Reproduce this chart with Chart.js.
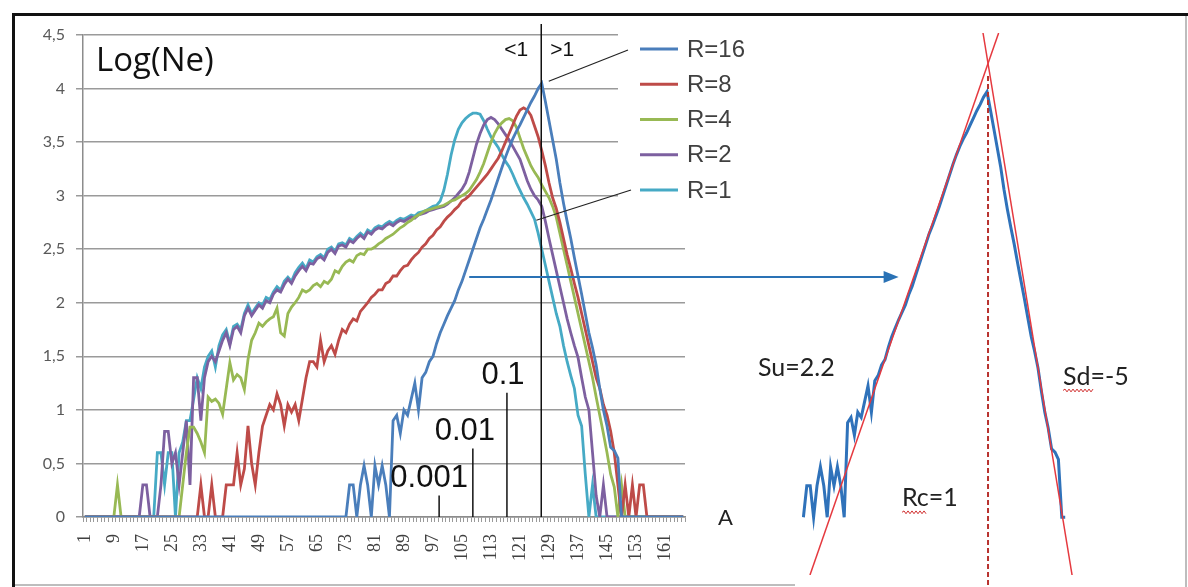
<!DOCTYPE html>
<html><head><meta charset="utf-8">
<script src="https://cdn.jsdelivr.net/npm/chart.js@4.4.1/dist/chart.umd.min.js"></script>
<style>
html,body{margin:0;padding:0;background:#fff;}
#wrap{position:relative;width:1188px;height:587px;overflow:hidden;background:#fff;}
canvas{position:absolute;left:0;top:0;}
</style></head><body>
<div id="wrap"><canvas id="main" width="1188" height="587"></canvas><canvas id="inset" width="1188" height="587"></canvas></div>
<script>
// ---------- DATA ----------
const categories = Array.from({length:166}, (_, i) => String(i + 1));
const tickLabels = ['1','9','17','25','33','41','49','57','65','73','81','89','97','105','113','121','129','137','145','153','161'];
const seriesNames = ['R=16','R=8','R=4','R=2','R=1'];
const seriesColors = ['#4A7EBB','#BE4B48','#98B954','#7D60A0','#46AAC5'];

const r16 = [
0,0,0,0,0,0,0,0,0,0, 0,0,0,0,0,0,0,0,0,0, 0,0,0,0,0,0,0,0,0,0, 0,0,0,0,0,0,0,0,0,0,
0,0,0,0,0,0,0,0,0,0, 0,0,0,0,0,0,0,0,0,0, 0,0,0,0,0,0,0,0,0,0,
0,0,0,0.3,0.3,0,0.3,0.48,0.3,0,
0.48,0.3,0.48,0.3,0,0.9,0.95,0.78,1.0,0.95,
1.1,1.25,1.0,1.3,1.35,1.45,1.5,1.62,1.72,1.8,
1.88,1.95,2.02,2.12,2.2,2.3,2.4,2.5,2.6,2.7,
2.78,2.87,2.96,3.06,3.16,3.26,3.36,3.45,3.53,3.6,
3.66,3.73,3.8,3.87,3.93,4.0,4.05,3.88,3.7,3.52,
3.34,3.12,2.93,2.76,2.6,2.42,2.25,2.08,1.9,1.72,
1.58,1.42,1.2,1.0,0.85,0.65,0.62,0.55,0,0,
0,0,0,0,0,0,0,0,0,0, 0,0,0,0,0,0];

const r8 = [
0,0,0,0,0,0,0,0,0,0, 0,0,0,0,0,0,0,0,0,0, 0,0,0,0,0,0,0,0,0,0,
0,0,0.3,0,0,0.3,0,0,0,0.3,
0.3,0.3,0.6,0.3,0.45,0.85,0.5,0.3,0.6,0.85,
0.95,1.05,1.0,1.15,1.05,0.85,1.05,0.98,1.05,0.9,
1.1,1.3,1.45,1.45,1.4,1.65,1.45,1.55,1.6,1.52,
1.65,1.75,1.72,1.8,1.85,1.83,1.92,1.96,2.0,2.05,
2.08,2.12,2.12,2.18,2.2,2.25,2.25,2.3,2.34,2.35,
2.4,2.44,2.47,2.52,2.55,2.6,2.63,2.68,2.71,2.76,
2.8,2.83,2.87,2.9,2.95,2.97,3.0,3.04,3.08,3.12,
3.16,3.2,3.25,3.3,3.35,3.42,3.5,3.58,3.66,3.74,
3.8,3.82,3.8,3.75,3.65,3.55,3.42,3.28,3.12,2.98,
2.88,2.75,2.6,2.45,2.32,2.18,2.05,1.9,1.75,1.6,
1.45,1.3,1.2,1.05,0.95,0.8,0.6,0.3,0,0.3,
0,0.3,0,0.3,0.3,0,0,0,0,0, 0,0,0,0,0,0];

const r4 = [
0,0,0,0,0,0,0,0,0,0.3, 0,0,0,0,0,0,0,0,0,0,
0,0,0,0,0,0,0,0.3,0.6,0.84,
0.84,0.78,0.7,0.6,1.12,1.08,1.1,1.06,0.96,1.2,
1.44,1.28,1.33,1.3,1.19,1.47,1.65,1.72,1.81,1.78,
1.82,1.85,1.87,1.95,1.72,1.69,1.9,1.96,2.0,2.05,
2.12,2.1,2.12,2.16,2.18,2.15,2.2,2.18,2.22,2.3,
2.28,2.34,2.38,2.4,2.38,2.44,2.46,2.45,2.5,2.5,
2.52,2.55,2.57,2.6,2.62,2.64,2.67,2.7,2.72,2.75,
2.77,2.8,2.82,2.84,2.86,2.87,2.88,2.89,2.9,2.91,
2.93,2.95,2.96,2.98,3.0,3.02,3.05,3.1,3.15,3.22,
3.3,3.4,3.5,3.58,3.64,3.68,3.71,3.72,3.7,3.64,
3.54,3.44,3.36,3.28,3.22,3.17,3.1,3.04,2.98,2.9,
2.8,2.65,2.5,2.35,2.2,2.05,1.9,1.75,1.6,1.45,
1.3,1.12,0.95,0.78,0.6,0.4,0.28,0,0.3,0,
0,0,0,0,0,0,0,0,0,0, 0,0,0,0,0,0];

const r2 = [
0,0,0,0,0,0,0,0,0,0, 0,0,0,0,0,0,0.3,0.3,0,0,
0,0.3,0.8,0.8,0.5,0.6,0.3,0.6,0.9,0.3,
1.3,1.3,0.9,1.3,1.45,1.5,1.45,1.55,1.65,1.72,
1.6,1.75,1.78,1.72,1.88,1.95,1.88,1.93,1.98,1.95,
2.02,2.0,2.08,2.12,2.1,2.17,2.22,2.18,2.25,2.3,
2.34,2.3,2.37,2.36,2.41,2.43,2.4,2.47,2.5,2.46,
2.53,2.54,2.52,2.58,2.56,2.6,2.63,2.6,2.66,2.64,
2.68,2.7,2.69,2.72,2.74,2.72,2.75,2.77,2.76,2.78,
2.8,2.79,2.82,2.83,2.84,2.86,2.87,2.88,2.89,2.9,
2.92,2.95,2.98,3.02,3.06,3.12,3.22,3.35,3.48,3.58,
3.66,3.71,3.73,3.71,3.67,3.62,3.57,3.52,3.46,3.4,
3.34,3.24,3.14,3.06,3.0,2.96,2.9,2.76,2.6,2.45,
2.3,2.15,2.0,1.85,1.72,1.6,1.49,1.3,1.12,1.0,
0.6,0.2,0,0.3,0,0,0,0,0,0,
0,0,0,0,0,0,0,0,0,0, 0,0,0,0,0,0];

const r1 = [
0,0,0,0,0,0,0,0,0,0, 0,0,0,0,0,0,0,0,0,0,
0.6,0.6,0.3,0.6,0.6,0,0.6,0.7,0.9,0.9,
1.1,1.3,1.2,1.4,1.5,1.55,1.4,1.6,1.7,1.75,
1.62,1.78,1.8,1.75,1.9,1.98,1.9,1.95,2.0,1.98,
2.05,2.03,2.1,2.15,2.12,2.2,2.24,2.2,2.28,2.33,
2.37,2.32,2.4,2.38,2.43,2.45,2.42,2.5,2.52,2.48,
2.55,2.56,2.54,2.6,2.58,2.62,2.65,2.62,2.68,2.66,
2.7,2.72,2.71,2.74,2.76,2.74,2.77,2.79,2.78,2.8,
2.82,2.81,2.84,2.85,2.86,2.88,2.9,2.91,2.95,3.05,
3.2,3.38,3.52,3.62,3.68,3.72,3.75,3.77,3.77,3.76,
3.7,3.62,3.55,3.5,3.45,3.38,3.32,3.27,3.2,3.12,
3.05,2.98,2.92,2.85,2.78,2.65,2.5,2.35,2.2,2.05,
1.9,1.78,1.6,1.45,1.32,1.2,0.95,0.85,0.4,0,
0.3,0,0,0,0,0,0,0,0,0,
0,0,0,0,0,0,0,0,0,0, 0,0,0,0,0,0];

const seriesValues = [r16, r8, r4, r2, r1];

// inset: zoom of the R=16 curve with fitted straight lines
const insetFrom = 73, insetTo = 150;      // categories of R=16 shown
const fitPeak = {cat: 127.3, value: 4.32}; // crossing of the two fitted lines
const slopeUp = 0.093, slopeDown = -0.197; // per category
const markers = [
  {cat: 98.7, top: 0.2,  label: '0.001', dx: -10},
  {cat: 108,  top: 0.64, label: '0.01',  dx: -8},
  {cat: 117.4,top: 1.16, label: '0.1',   dx: -4}
];
const peakCat = 127;
const arrow = {fromCat: 107, value: 2.24, toInsetCat: 101};

// ---------- MAIN CHART ----------
function xPix(chart, c){ return chart.scales.x.getPixelForValue(c - 1); }

const mainDecor = {
  id: 'mainDecor',
  beforeDatasetsDraw(chart){
    const ctx = chart.ctx, a = chart.chartArea, y = chart.scales.y;
    ctx.save();
    ctx.fillStyle = '#fff';
    ctx.fillRect(a.right - 67, a.top - 12, 140, y.getPixelForValue(2.75) - a.top + 12);
    ctx.restore();
  },
  afterDraw(chart){
    const ctx = chart.ctx, a = chart.chartArea, ys = chart.scales.y;
    ctx.save();
    const px = xPix(chart, peakCat) - 0.5;
    ctx.strokeStyle = '#111'; ctx.lineWidth = 1.5;
    ctx.beginPath(); ctx.moveTo(px, a.top - 11); ctx.lineTo(px, a.bottom); ctx.stroke();
    ctx.fillStyle = '#111';
    ctx.font = '21px "Liberation Sans", Arial, sans-serif';
    ctx.textBaseline = 'middle';
    ctx.textAlign = 'right'; ctx.fillText('<1', px - 13, a.top + 15);
    ctx.textAlign = 'left';  ctx.fillText('>1', px + 9, a.top + 15);
    ctx.font = '33px "Open Sans", sans-serif';
    ctx.fillText('Log(Ne)', a.left + 13, a.top + 27);
    ctx.lineWidth = 1.5;
    ctx.font = '31px "Liberation Sans", Arial, sans-serif';
    ctx.textAlign = 'center';
    markers.forEach(m => {
      const mx = xPix(chart, m.cat), my = ys.getPixelForValue(m.top);
      ctx.beginPath(); ctx.moveTo(mx, my); ctx.lineTo(mx, a.bottom); ctx.stroke();
      ctx.fillText(m.label, mx + m.dx, my - 17);
    });
    ctx.font = '24px "Liberation Sans", Arial, sans-serif';
    ctx.textAlign = 'left';
    seriesNames.forEach((n, i) => {
      const ly = a.top + 14 + i * 35.25;
      ctx.strokeStyle = seriesColors[i]; ctx.lineWidth = 3;
      ctx.beginPath(); ctx.moveTo(a.right - 45, ly); ctx.lineTo(a.right - 7, ly); ctx.stroke();
      ctx.fillStyle = '#404040';
      ctx.fillText(n, a.right + 2, ly + 1);
    });
    ctx.strokeStyle = '#222'; ctx.lineWidth = 1.2;
    const pk = {x: xPix(chart, peakCat), y: ys.getPixelForValue(r16[peakCat - 1])};
    ctx.beginPath(); ctx.moveTo(a.right - 57, a.top + 15); ctx.lineTo(pk.x + 7, pk.y - 2); ctx.stroke();
    const c1 = {x: xPix(chart, 125.5), y: ys.getPixelForValue(2.77)};
    ctx.beginPath(); ctx.moveTo(a.right - 54, a.top + 155); ctx.lineTo(c1.x, c1.y); ctx.stroke();
    ctx.fillStyle = '#222';
    ctx.font = '22px Lato, "Open Sans", sans-serif';
    ctx.textAlign = 'left';
    ctx.fillText('A', a.right + 33, a.bottom + 1);
    ctx.restore();
  }
};

const mainChart = new Chart(document.getElementById('main'), {
  type: 'line',
  data: {
    labels: categories,
    datasets: seriesNames.map((n, i) => ({
      label: n, data: seriesValues[i], borderColor: seriesColors[i],
      backgroundColor: seriesColors[i], borderWidth: 2.8, pointRadius: 0,
      tension: 0, order: i + 1
    }))
  },
  options: {
    responsive: false, animation: false, events: [],
    layout: {padding: {left: 0, top: 35, right: 503, bottom: 0}},
    plugins: {legend: {display: false}, tooltip: {enabled: false}},
    scales: {
      x: {
        type: 'category', offset: true,
        grid: {offset: true, drawOnChartArea: false, tickLength: 5, color: '#9a9a9a', lineWidth: 1},
        border: {color: '#8c8c8c', width: 1.5},
        ticks: {
          autoSkip: false, maxRotation: 90, minRotation: 90, padding: 12,
          color: '#404040', font: {family: '"Liberation Serif", serif', size: 18},
          callback: function(v){ const l = this.getLabelForValue(v); return tickLabels.includes(l) ? l : ''; }
        },
        afterFit: s => { s.height = 70; }
      },
      y: {
        min: 0, max: 4.5,
        grid: {color: '#9a9a9a', lineWidth: 1.5, tickLength: 7},
        border: {color: '#8c8c8c', width: 1.5},
        ticks: {stepSize: 0.5, padding: 11, color: '#595959',
          font: {family: 'Lato, "Open Sans", sans-serif', size: 16},
          callback: v => String(v).replace('.', ',')},
        afterFit: s => { s.width = 83; }
      }
    }
  },
  plugins: [mainDecor]
});

// ---------- INSET CHART ----------
const insetPoints = [];
for (let c = insetFrom; c <= insetTo; c++) insetPoints.push({x: c, y: r16[c - 1]});
const yMinInset = -0.55, yMaxInset = 4.61;
const fitUp = [
  {x: fitPeak.cat + (yMinInset - fitPeak.value) / slopeUp, y: yMinInset},
  {x: fitPeak.cat + (yMaxInset - fitPeak.value) / slopeUp, y: yMaxInset}
];
const fitDown = [
  {x: fitPeak.cat + (yMaxInset - fitPeak.value) / slopeDown, y: yMaxInset},
  {x: fitPeak.cat + (yMinInset - fitPeak.value) / slopeDown, y: yMinInset}
];

function wavy(ctx, x0, x1, y){
  ctx.beginPath(); ctx.moveTo(x0, y); let up = true;
  for (let x = x0 + 2; x <= x1; x += 2){ ctx.lineTo(x, y + (up ? -1.4 : 1.4)); up = !up; }
  ctx.stroke();
}

const insetDecor = {
  id: 'insetDecor',
  afterDraw(chart){
    const ctx = chart.ctx, xs = chart.scales.x, ys = chart.scales.y;
    ctx.save();
    const dx = xs.getPixelForValue(fitPeak.cat);
    ctx.strokeStyle = '#b8322e'; ctx.lineWidth = 2; ctx.setLineDash([5, 3]);
    ctx.beginPath(); ctx.moveTo(dx, ys.getPixelForValue(4.2)); ctx.lineTo(dx, 587); ctx.stroke();
    ctx.setLineDash([]);
    ctx.fillStyle = '#222';
    ctx.font = '25px Lato, "Open Sans", sans-serif';
    ctx.textBaseline = 'middle'; ctx.textAlign = 'left';
    ctx.fillText('Su=2.2', 758, ys.getPixelForValue(1.42));
    ctx.fillText('Sd=-5', 1063, ys.getPixelForValue(1.34));
    ctx.fillText('Rc=1', 902, ys.getPixelForValue(0.18));
    ctx.strokeStyle = '#d03030'; ctx.lineWidth = 1;
    wavy(ctx, 1063, 1093, ys.getPixelForValue(1.34) + 14);
    wavy(ctx, 902, 927, ys.getPixelForValue(0.18) + 14);
    const m = mainChart;
    const ax0 = xPix(m, arrow.fromCat), ay = m.scales.y.getPixelForValue(arrow.value);
    const ax1 = xs.getPixelForValue(arrow.toInsetCat);
    ctx.strokeStyle = '#2a72b5'; ctx.fillStyle = '#2a72b5'; ctx.lineWidth = 2;
    ctx.beginPath(); ctx.moveTo(ax0, ay); ctx.lineTo(ax1 - 12, ay); ctx.stroke();
    ctx.beginPath(); ctx.moveTo(ax1, ay); ctx.lineTo(ax1 - 15, ay - 6); ctx.lineTo(ax1 - 15, ay + 6); ctx.closePath(); ctx.fill();
    ctx.fillStyle = '#111';
    ctx.fillRect(12, 13, 1176, 3);
    ctx.fillRect(12, 13, 3, 574);
    ctx.fillStyle = '#bdbdbd';
    ctx.fillRect(15, 584, 780, 2);
    ctx.fillRect(1185, 16, 2, 571);
    ctx.restore();
  }
};

new Chart(document.getElementById('inset'), {
  type: 'line',
  data: {
    datasets: [
      {data: fitUp, borderColor: '#e5393f', borderWidth: 1.5, pointRadius: 0, order: 1},
      {data: fitDown, borderColor: '#e5393f', borderWidth: 1.5, pointRadius: 0, order: 1},
      {data: insetPoints, borderColor: '#2f72ba', borderWidth: 3, pointRadius: 0, order: 2}
    ]
  },
  options: {
    responsive: false, animation: false, events: [],
    layout: {padding: {left: 800, right: 109.2, top: 33, bottom: 12}},
    plugins: {legend: {display: false}, tooltip: {enabled: false}},
    scales: {
      x: {type: 'linear', min: 72, max: 154, display: false},
      y: {min: yMinInset, max: yMaxInset, display: false}
    }
  },
  plugins: [insetDecor]
});
</script>
</body></html>
